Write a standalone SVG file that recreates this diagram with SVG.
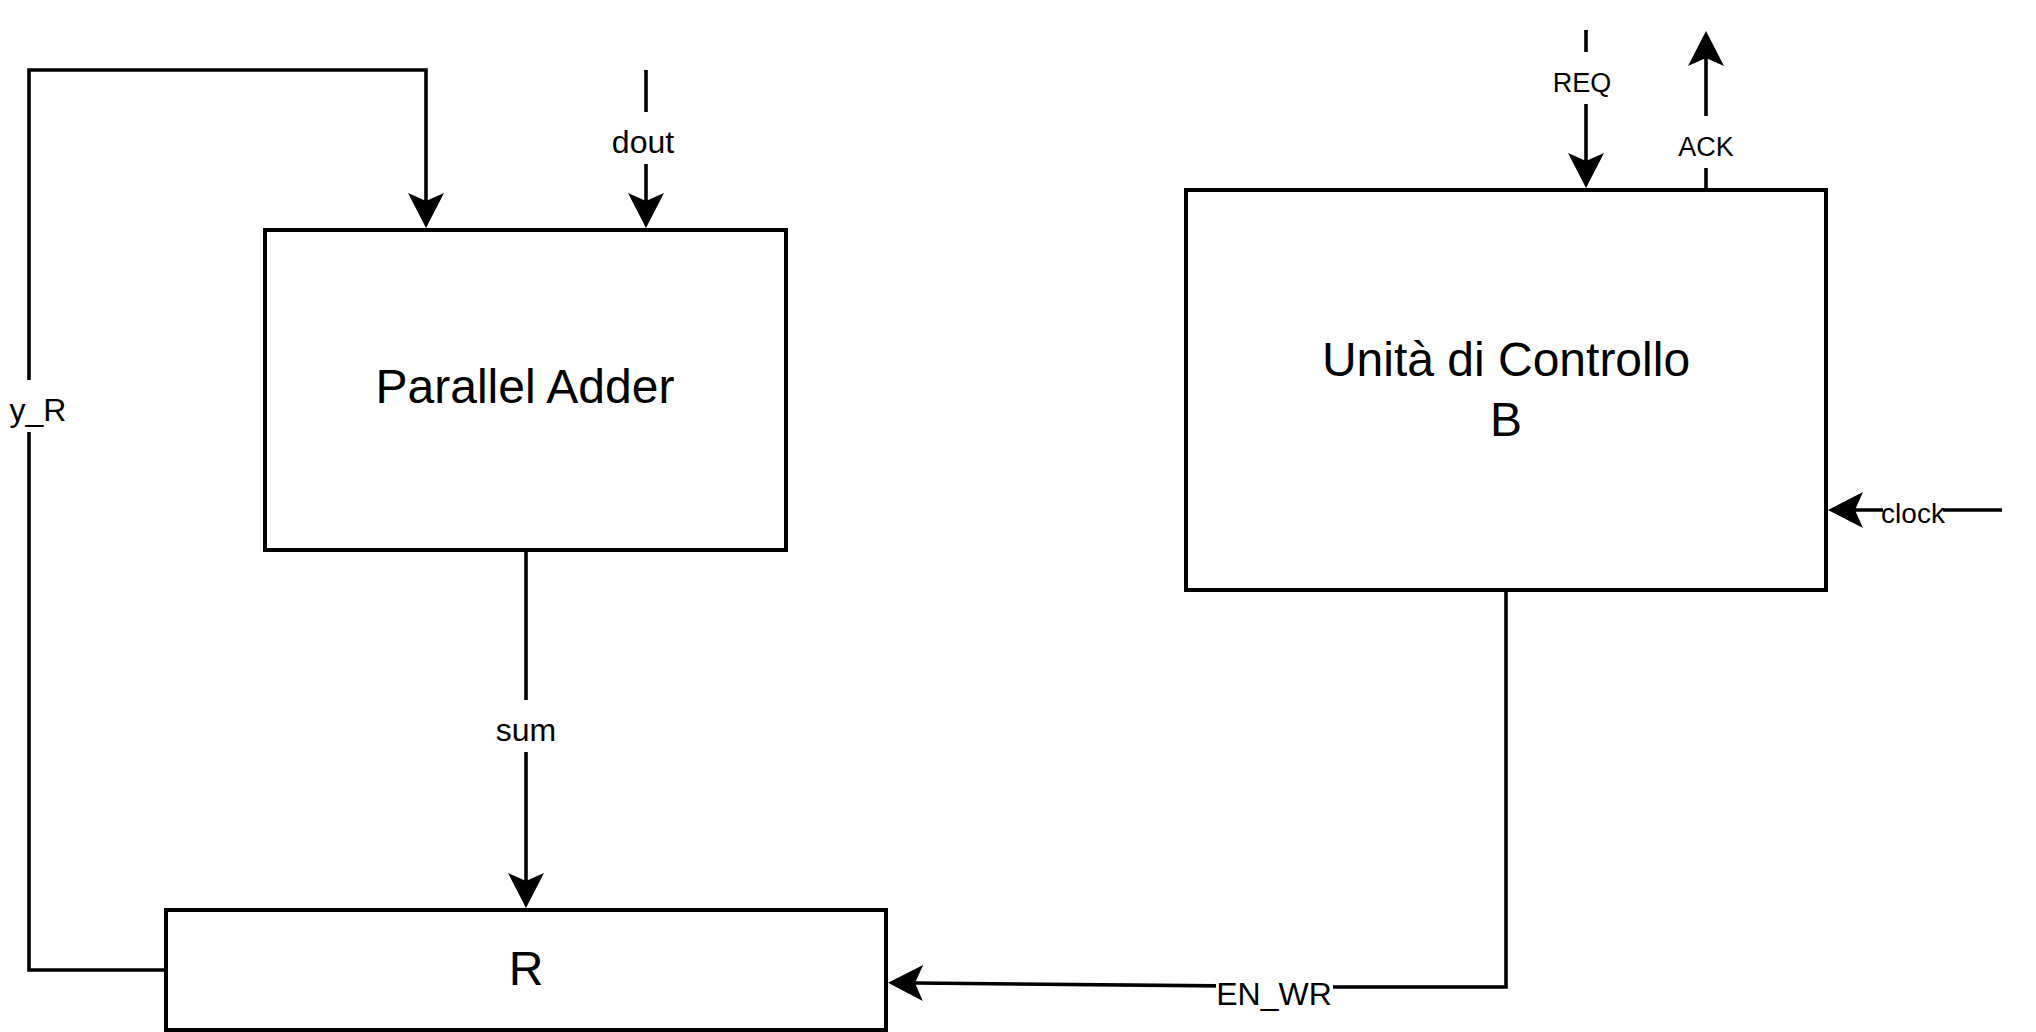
<svg xmlns="http://www.w3.org/2000/svg" width="2036" height="1032" viewBox="0 0 2036 1032">
<style>
.box{fill:#fff;stroke:#000;stroke-width:4}
.wire{fill:none;stroke:#000;stroke-width:3.6;marker-end:url(#arr)}
.plain{fill:none;stroke:#000;stroke-width:3.6}
.bg{fill:#fff;stroke:none}
.big{font-family:"Liberation Sans",Arial,sans-serif;font-size:48px;text-anchor:middle;fill:#000}
.lbl{font-family:"Liberation Sans",Arial,sans-serif;font-size:32px;text-anchor:middle;fill:#000}
.sm{font-family:"Liberation Sans",Arial,sans-serif;font-size:27px;text-anchor:middle;fill:#000}
</style>
<defs>
<marker id="arr" markerUnits="userSpaceOnUse" viewBox="-9 -19 37 38" refX="0" refY="0" markerWidth="37" markerHeight="38" orient="auto" overflow="visible">
<path d="M27,0 L-8,-18 L0,0 L-8,18 Z" fill="#000"/>
</marker>
</defs>
<g id="connectors">
<path class="wire" d="M166,970 H29 V70 H426 V201"/>
<path class="wire" d="M646,70 V201"/>
<path class="wire" d="M526,550 V881"/>
<path class="wire" d="M1506,590 V987 H1333 L915,983"/>
<path class="wire" d="M1586,30 V161"/>
<path class="wire" d="M1706,190 V58"/>
<path class="wire" d="M2002,510 H1855"/>
<rect class="bg" x="8" y="380" width="60" height="52"/>
<text class="lbl" x="38" y="421">y_R</text>
<rect class="bg" x="610" y="112" width="70" height="52"/>
<text class="lbl" x="643" y="153">dout</text>
<rect class="bg" x="494" y="700" width="64" height="52"/>
<text class="lbl" x="526" y="741">sum</text>
<rect class="bg" x="1216" y="972" width="117" height="30"/>
<text class="lbl" x="1274" y="1005">EN_WR</text>
<rect class="bg" x="1550" y="52" width="64" height="52"/>
<text class="sm" x="1582" y="92">REQ</text>
<rect class="bg" x="1676" y="116" width="60" height="52"/>
<text class="sm" x="1706" y="156">ACK</text>
<rect class="bg" x="1883" y="502" width="60" height="18"/>
<text class="sm" x="1913" y="523" style="font-size:28px">clock</text>
</g>
<g id="parallel-adder">
<rect class="box" x="265" y="230" width="521" height="320"/>
<text class="big" x="525" y="403">Parallel Adder</text>
</g>
<g id="register-r">
<rect class="box" x="166" y="910" width="720" height="120"/>
<text class="big" x="526" y="985">R</text>
</g>
<g id="unita-controllo">
<rect class="box" x="1186" y="190" width="640" height="400"/>
<text class="big" x="1506" y="376">Unità di Controllo</text>
<text class="big" x="1506" y="436">B</text>
</g>
</svg>
